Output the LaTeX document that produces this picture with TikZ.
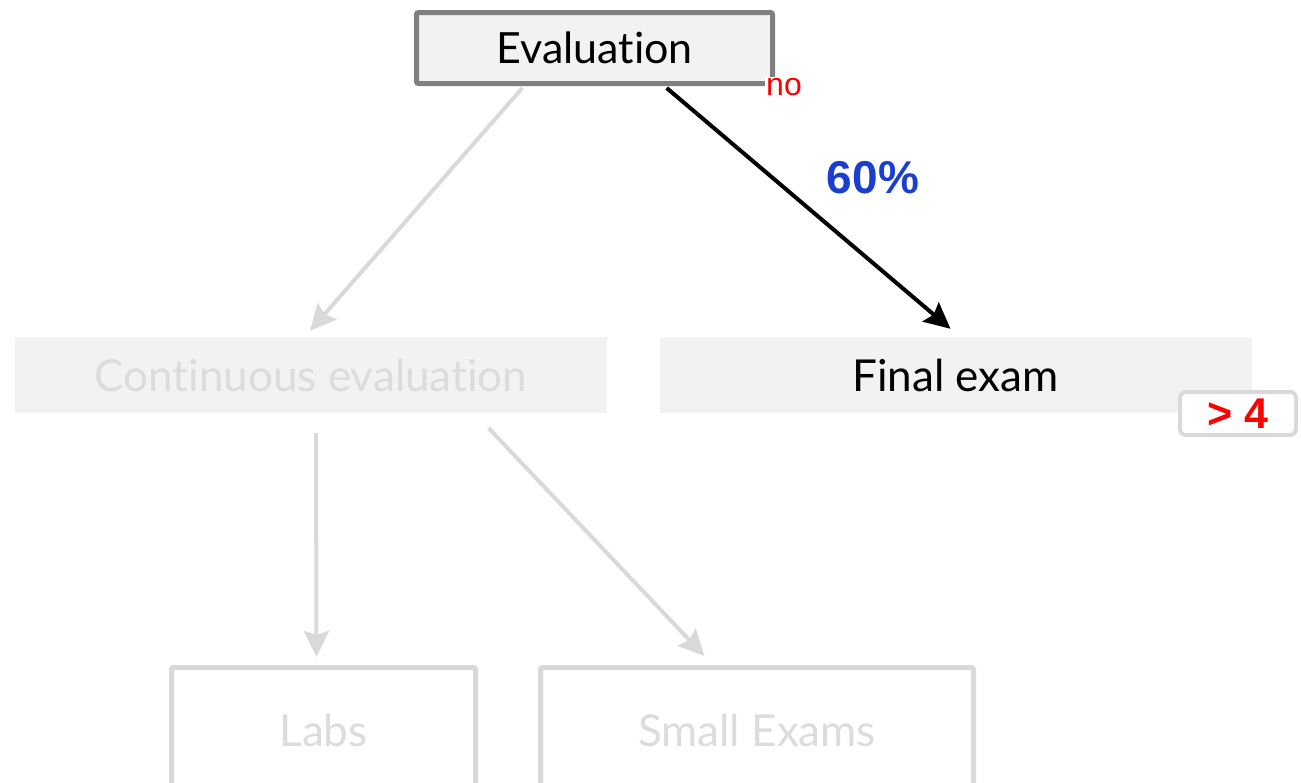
\documentclass[tikz,border=0pt]{standalone}
\usepackage{fontspec}
\setmainfont[Ligatures=NoCommon]{Lato}
\newfontfamily\arialfont{Liberation Sans}
\usetikzlibrary{arrows.meta,calc}
\definecolor{boxfill}{HTML}{F2F2F2}
\definecolor{frame}{HTML}{808080}
\definecolor{faded}{HTML}{D9D9D9}
\definecolor{fadedtext}{HTML}{DCDCDC}
\definecolor{pctblue}{HTML}{1A3ECF}
\definecolor{alert}{HTML}{FF0000}
\tikzset{
  mainbox/.style={draw=frame, line width=5pt, fill=boxfill, rounded corners=2pt,
    minimum width=356pt, minimum height=71pt, inner sep=0pt,
    font=\fontsize{43}{47}\selectfont},
  flatbox/.style={fill=boxfill, minimum width=592pt, minimum height=76pt, inner sep=0pt,
    font=\fontsize{44}{48}\selectfont},
  leafbox/.style={draw=faded, line width=5pt, rounded corners=2pt, inner sep=0pt,
    minimum height=125pt, text=fadedtext, font=\fontsize{44}{48}\selectfont},
  tagbox/.style={draw=faded, line width=4pt, fill=white, rounded corners=6pt,
    minimum width=116pt, minimum height=43pt, inner sep=0pt, text=alert,
    font=\arialfont\bfseries\fontsize{43}{46}\selectfont},
  link/.style={line width=4pt, -{Stealth[length=26pt,width=25pt,inset=4pt]}},
  fadedlink/.style={link, draw=faded},
}
\begin{document}
\begin{tikzpicture}[x=1pt,y=-1pt]
  \useasboundingbox (0,0) rectangle (1301,782);

  % top decision
  \node[mainbox] (eval) at (594.5,48) {Evaluation};
  \node[fill=white, inner sep=1pt, text=alert, anchor=west,
        font=\arialfont\fontsize{32}{35}\selectfont] (no) at (765,87) {no};

  % second level
  \node[flatbox, text=fadedtext] (cont) at (311,375) {Continuous evaluation};
  \node[flatbox] (final) at (955.5,375) {Final exam};
  \node[tagbox] (tag) at (1238,413.5) {> 4};

  % leaves, running off the bottom edge
  \node[leafbox, minimum width=304pt] (labs) at (323.5,730) {Labs};
  \node[leafbox, minimum width=433pt] (small) at (757,730) {Small Exams};

  % connectors
  \draw[fadedlink] ($(eval.south west)!0.30!(eval.south east)+(0,2)$)
     -- ($(cont.north)+(-1,-6)$);
  \draw[link, draw=black] ($(eval.south west)!0.70!(eval.south east)+(0,2)$)
     -- node[pos=0.5, above right, xshift=13pt, yshift=9pt, text=pctblue,
             font=\arialfont\bfseries\fontsize{46}{50}\selectfont] (pct) {60\%}
        ($(final.north)+(-5,-8)$);
  \draw[fadedlink] ($(cont.south)+(5,20)$) -- ($(labs.north)+(-7,-8)$);
  \draw[fadedlink] ($(cont.south east)!0.20!(cont.south west)+(0,15)$)
     -- ($(small.north west)!0.38!(small.north east)+(0,-9)$);
\end{tikzpicture}
\end{document}
